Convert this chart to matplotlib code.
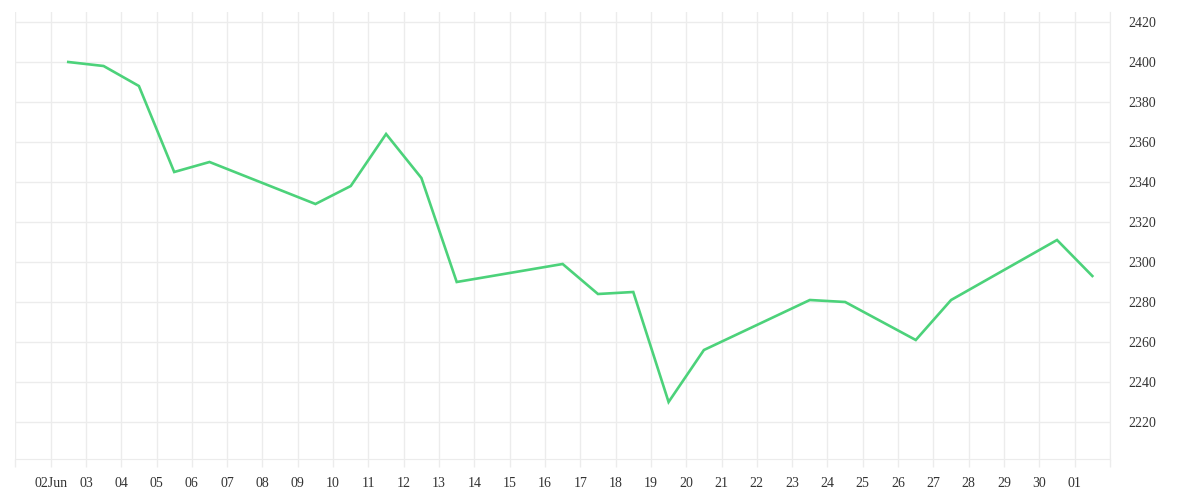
import matplotlib
matplotlib.use("Agg")
import matplotlib.pyplot as plt
import pandas as pd

dates = ["2014-06-02", "2014-06-03", "2014-06-04", "2014-06-05", "2014-06-06",
         "2014-06-09", "2014-06-10", "2014-06-11", "2014-06-12", "2014-06-13",
         "2014-06-16", "2014-06-17", "2014-06-18", "2014-06-19", "2014-06-20",
         "2014-06-23", "2014-06-24", "2014-06-26", "2014-06-27", "2014-06-30",
         "2014-07-01"]
values = [2400, 2398, 2388, 2345, 2350, 2329, 2338, 2364, 2342, 2290,
          2299, 2284, 2285, 2230, 2256, 2281, 2280, 2261, 2281, 2311, 2293]
y_ticks = [2220, 2240, 2260, 2280, 2300, 2320, 2340, 2360, 2380, 2400, 2420]

x = pd.to_datetime(dates) + pd.Timedelta(hours=12)
day_ticks = pd.date_range("2014-06-01", "2014-07-02", freq="D")
day_labels = []
for d in day_ticks:
    if d == day_ticks[0] or d == day_ticks[-1]:
        day_labels.append("")
    elif d.day == 2 and d.month == 6:
        day_labels.append("02Jun")
    else:
        day_labels.append(d.strftime("%d"))

grid_c = "#ececec"
line_c = "#4cd27a"
text_c = "#333333"
plt.rcParams['font.family'] = ['Liberation Serif', 'DejaVu Serif']

fig = plt.figure(figsize=(12, 5), dpi=100)
ax = fig.add_axes([15.3 / 1200, 1 - 459 / 500, (1110 - 15.3) / 1200, (459 - 12) / 500])
ax.plot(x, values, color=line_c, linewidth=1.9, solid_joinstyle="miter")

ax.set_xlim(day_ticks[0], day_ticks[-1])
ax.set_ylim(2201.5, 2425)
ax.set_xticks(day_ticks)
ax.set_xticklabels(day_labels)
ax.set_yticks(y_ticks)
ax.yaxis.tick_right()
ax.grid(True, color=grid_c, linewidth=1)
ax.set_axisbelow(True)

for s in ["top", "left"]:
    ax.spines[s].set_visible(False)
ax.spines["bottom"].set_color(grid_c)
ax.spines["right"].set_color(grid_c)

ax.tick_params(axis="x", length=6, width=1, color=grid_c, pad=7, labelsize=10, labelcolor=text_c)
ax.tick_params(axis="y", length=0, pad=13, labelsize=10, labelcolor=text_c)
for lab in ax.get_yticklabels():
    lab.set_va("center_baseline")

fig.savefig("out.png", dpi=100, facecolor="white")
